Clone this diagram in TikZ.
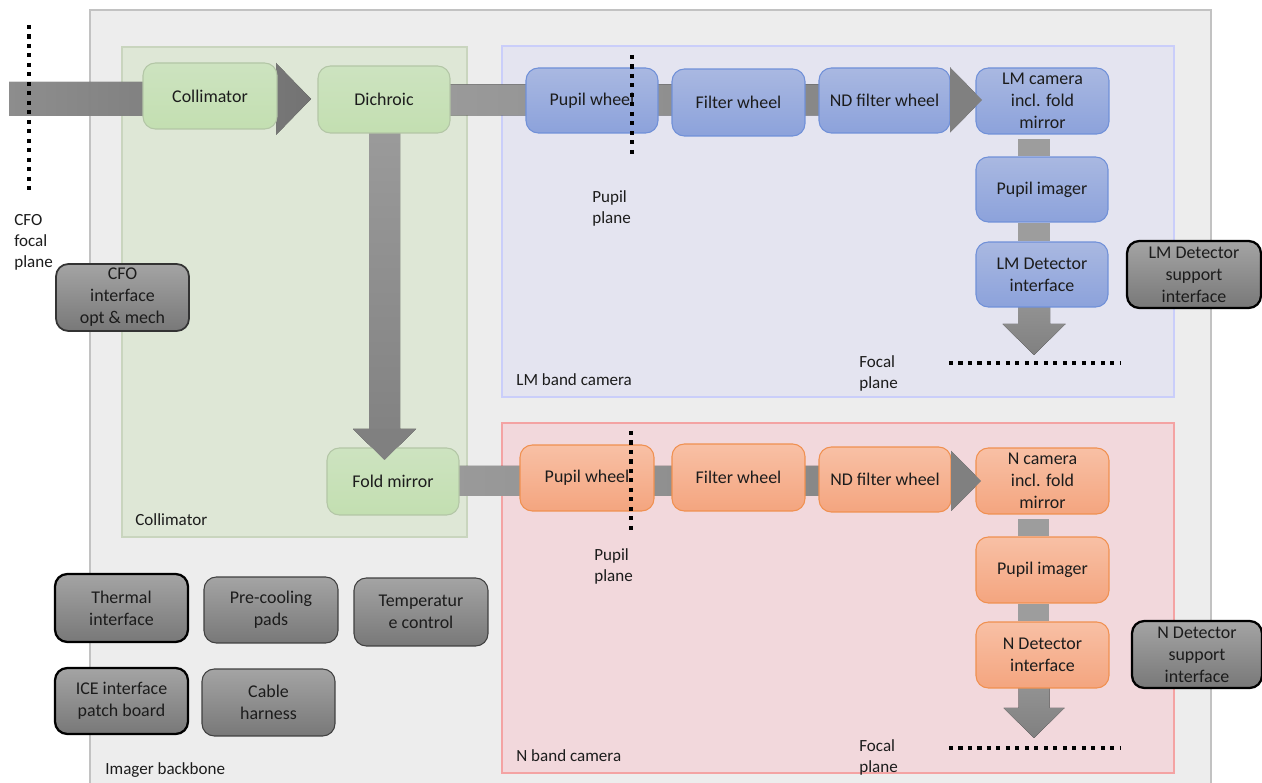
\documentclass[tikz,border=0pt]{standalone}
\usepackage{fontspec}
\setmainfont{Carlito}
\usetikzlibrary{calc}
\definecolor{bbfill}{HTML}{EDEDED}
\definecolor{bbborder}{HTML}{C2C2C2}
\definecolor{colfill}{HTML}{DEE7D6}
\definecolor{colborder}{HTML}{C9D5BE}
\definecolor{lmfill}{HTML}{E4E4F0}
\definecolor{lmborder}{HTML}{CACEFA}
\definecolor{nfill}{HTML}{F2D8DC}
\definecolor{nborder}{HTML}{F4A3A3}
\definecolor{grntop}{HTML}{CDE3C0}
\definecolor{grnbot}{HTML}{C3DFB1}
\definecolor{grnborder}{HTML}{B3C6A6}
\definecolor{blutop}{HTML}{A9B8E1}
\definecolor{blubot}{HTML}{8CA2DB}
\definecolor{bluborder}{HTML}{7090D8}
\definecolor{ortop}{HTML}{F8C0A5}
\definecolor{orbot}{HTML}{F4A57F}
\definecolor{orborder}{HTML}{F09050}
\definecolor{grytop}{HTML}{A4A4A4}
\definecolor{grybot}{HTML}{787878}
\definecolor{beamlight}{HTML}{9D9D9D}
\definecolor{beamdark}{HTML}{808080}
\definecolor{txt}{HTML}{1C1C1C}
\pgfdeclarelayer{bg}
\pgfdeclarelayer{beam}
\pgfdeclarelayer{fg}
\pgfsetlayers{bg,beam,main,fg}
\newcommand\boxfont{\fontsize{10.2pt}{12.5pt}\selectfont}
\newcommand\lblfont{\fontsize{9.7pt}{11.9pt}\selectfont}
% horizontal block arrow: style, start, tip, half shaft, half head, head length
\newcommand\beamH[6]{\fill[#1] ($(#2|-#3)+(0,-#4)$) -- ($(#3)+(-#6,-#4)$) -- ($(#3)+(-#6,-#5)$) -- (#3) -- ($(#3)+(-#6,#5)$) -- ($(#3)+(-#6,#4)$) -- ($(#2|-#3)+(0,#4)$) -- cycle;}
% vertical (downward) block arrow
\newcommand\beamV[6]{\fill[#1] ($(#3|-#2)+(-#4,0)$) -- ($(#3)+(-#4,-#6)$) -- ($(#3)+(-#5,-#6)$) -- (#3) -- ($(#3)+(#5,-#6)$) -- ($(#3)+(#4,-#6)$) -- ($(#3|-#2)+(#4,0)$) -- cycle;}
% arrow heads drawn over the target box
\newcommand\headH[3]{\fill[beamdark] ($(#1)+(-#3,-#2)$) -- (#1) -- ($(#1)+(-#3,#2)$) -- cycle;}
\newcommand\headV[3]{\fill[beamdark] ($(#1)+(-#2,-#3)$) -- (#1) -- ($(#1)+(#2,-#3)$) -- cycle;}
\begin{document}
\begin{tikzpicture}[x=0.02cm,y=-0.02cm,
  comp/.style={rounded corners=7pt, minimum width=2.66cm, minimum height=1.32cm, inner sep=1pt, align=center, font=\boxfont, text=txt},
  grn/.style={comp, draw=grnborder, line width=0.6pt, top color=grntop, bottom color=grnbot},
  blu/.style={comp, draw=bluborder, line width=0.6pt, top color=blutop, bottom color=blubot},
  ora/.style={comp, draw=orborder, line width=0.6pt, top color=ortop, bottom color=orbot},
  gry/.style={comp, draw=black!75, line width=0.6pt, top color=grytop, bottom color=grybot},
  grybold/.style={gry, draw=black, line width=1.3pt},
  lbl/.style={font=\lblfont, text=txt, align=left, inner sep=0pt, anchor=west},
  beamH/.style={left color=beamlight, right color=beamdark},
  beamA/.style={left color=beamlight, right color=beamdark, fill opacity=0.88},
  beamV/.style={top color=beamlight, bottom color=beamdark},
  beamS/.style={fill=beamlight},
  dots/.style={line width=2.3pt, dash pattern=on 2.3pt off 3.1pt, black}]
\useasboundingbox (0,0) rectangle (1262,783);
\clip (0,0) rectangle (1262,783);
\begin{pgfonlayer}{bg}
\fill[white] (0,0) rectangle (1262,783);
\draw[draw=bbborder, line width=1.1pt, fill=bbfill] (90,10) rectangle (1211,830);
\draw[draw=colborder, line width=1pt, fill=colfill] (122,47) rectangle (467,537);
\draw[draw=lmborder, line width=1pt, fill=lmfill] (502,46) rectangle (1174,397);
\draw[draw=nborder, line width=1pt, fill=nfill] (502,423) rectangle (1174,773);
\end{pgfonlayer}

% components
\node[grn, minimum width=2.68cm] (col) at (210,96) {Collimator};
\node[grn, minimum width=2.64cm, minimum height=1.34cm] (dich) at (384,99.5) {Dichroic};
\node[grn, minimum width=2.64cm, minimum height=1.34cm] (fold) at (393,481.5) {Fold mirror};

\node[blu, minimum width=2.64cm, minimum height=1.30cm] (lmpw) at (592,100.5) {Pupil wheel};
\node[blu, minimum height=1.34cm] (lmfw) at (738.5,102.5) {Filter wheel};
\node[blu, minimum width=2.62cm, minimum height=1.30cm] (lmnd) at (884.5,100.5) {ND filter wheel};
\node[blu] (lmcam) at (1042.5,101) {LM camera\\incl. fold\\mirror};
\node[blu, minimum width=2.64cm, minimum height=1.30cm] (lmpi) at (1042,189.5) {Pupil imager};
\node[blu, minimum width=2.64cm, minimum height=1.30cm] (lmdi) at (1042,274.5) {LM Detector\\interface};
\node[grybold, minimum width=2.68cm, minimum height=1.34cm] (lmsup) at (1194,274.5) {LM Detector\\support\\interface};

\node[ora, minimum width=2.68cm] (npw) at (587,478) {Pupil wheel};
\node[ora, minimum height=1.34cm] (nfw) at (738.5,477.5) {Filter wheel};
\node[ora, minimum width=2.64cm, minimum height=1.30cm] (nnd) at (885,479.5) {ND filter wheel};
\node[ora] (ncam) at (1042.5,481) {N camera\\incl. fold\\mirror};
\node[ora] (npi) at (1042.5,570) {Pupil imager};
\node[ora] (ndi) at (1042.5,655) {N Detector\\interface};
\node[grybold, minimum width=2.60cm, minimum height=1.34cm] (nsup) at (1197,654.5) {N Detector\\support\\interface};

\node[gry, draw=black!80, line width=1pt, minimum height=1.34cm] (cfoif) at (122.5,297.5) {CFO\\interface\\opt \& mech};
\node[grybold, minimum height=1.36cm] (therm) at (121.5,608) {Thermal\\interface};
\node[gry, minimum width=2.68cm] (precool) at (271,610) {Pre-cooling\\pads};
\node[gry, minimum width=2.68cm, minimum height=1.36cm] (temp) at (421,612) {Temperatur\\e control};
\node[grybold] (ice) at (121.5,701) {ICE interface\\patch board};
\node[gry, minimum height=1.34cm] (cable) at (268.5,702.5) {Cable\\harness};

% beam coordinates
\coordinate (cfoin) at (9,99);
\coordinate (coltip) at (311,99);
\coordinate (lmtip) at (982,100);
\coordinate (foldtip) at (384.5,460);
\coordinate (ntip) at (981,481);
\coordinate (lmfoc) at (1034,355);
\coordinate (nfoc) at (1034,738);

\begin{pgfonlayer}{beam}
\beamH{beamA}{cfoin}{coltip}{17}{36}{35}
\beamH{beamH}{dich.center}{lmtip}{15.5}{32.5}{32}
\beamV{beamV}{dich.center}{foldtip}{15.5}{31.5}{31}
\beamH{beamH}{fold.center}{ntip}{15}{30}{30}
\beamV{beamV}{lmdi.center}{lmfoc}{16}{31.5}{31}
\beamV{beamV}{ndi.center}{nfoc}{15.5}{30.5}{30}
\fill[beamS] ($(lmcam.south)+(-24.5,4)$) rectangle ($(lmpi.north)+(7.5,0)$);
\fill[beamS] ($(lmpi.south)+(-24,0)$) rectangle ($(lmdi.north)+(8,0)$);
\fill[beamS] ($(ncam.south)+(-24.5,4)$) rectangle ($(npi.north)+(6.5,0)$);
\fill[beamS] ($(npi.south)+(-24.5,0)$) rectangle ($(ndi.north)+(6.5,0)$);
\end{pgfonlayer}
\begin{pgfonlayer}{fg}
\headH{lmtip}{32.5}{32}
\headH{ntip}{30}{30}
\headV{foldtip}{31.5}{31}
\end{pgfonlayer}

% planes (dotted)
\coordinate (cfoA) at (29,25);  \coordinate (cfoB) at (29,192);
\coordinate (lmppA) at (632,55); \coordinate (lmppB) at (632,157);
\coordinate (nppA) at (631,431); \coordinate (nppB) at (631,533);
\coordinate (lmfpA) at (949,363); \coordinate (lmfpB) at (1121,363);
\coordinate (nfpA) at (949,748); \coordinate (nfpB) at (1121,748);
\draw[dots] (cfoA) -- (cfoB);
\draw[dots] (lmppA) -- (lmppB);
\draw[dots] (nppA) -- (nppB);
\draw[dots] (lmfpA) -- (lmfpB);
\draw[dots] (nfpA) -- (nfpB);

% labels
\node[lbl] (cfolbl) at (14,242) {CFO\\focal\\plane};
\node[lbl] (lmpplbl) at (592,208.5) {Pupil\\plane};
\node[lbl] (npplbl) at (594,566.5) {Pupil\\plane};
\node[lbl] (lmfplbl) at (859,373.5) {Focal\\plane};
\node[lbl] (nfplbl) at (859,757.5) {Focal\\plane};
\node[lbl] (lmband) at (516,380) {LM band camera};
\node[lbl] (nband) at (516,756) {N band camera};
\node[lbl] (colllbl) at (135,520) {Collimator};
\node[lbl] (bblbl) at (105,770) {Imager backbone};
\end{tikzpicture}
\end{document}
